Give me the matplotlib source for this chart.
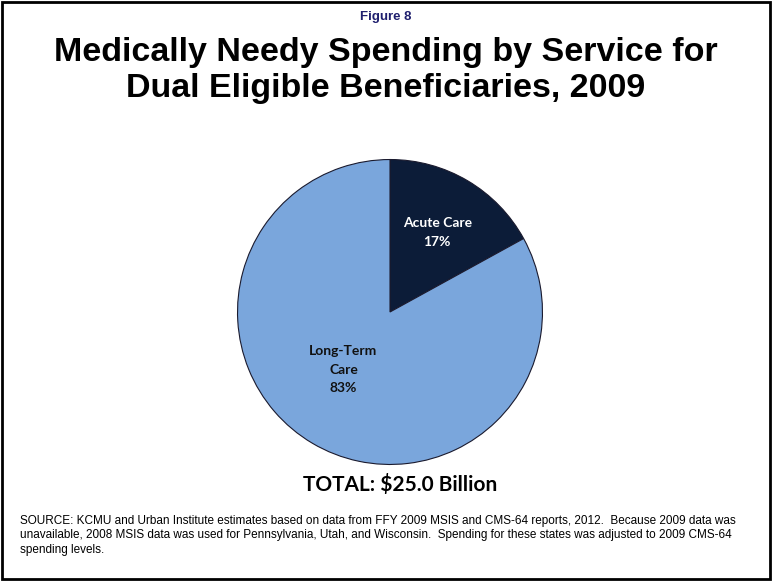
import matplotlib.pyplot as plt
from matplotlib.patches import Rectangle

# Spending shares by service
services = ["Acute Care", "Long-Term\nCare"]
shares = [17, 83]
colors = ["#0c1c38", "#7aa6dc"]
label_colors = ["white", "#111111"]
total_billion = 25.0

fig = plt.figure(figsize=(7.72, 5.81), dpi=100)
fig.patch.set_facecolor("white")

# frame around the slide
fig.patches.append(Rectangle((0.002, 0.003), 0.995, 0.994, transform=fig.transFigure,
                             fill=False, edgecolor="black", linewidth=2))

fig.text(0.5, 0.970, "Figure 8", ha="center", va="center", fontsize=9.5,
         fontweight="bold", color="#1f1f6e", family="Liberation Sans")
fig.text(0.5, 0.878, "Medically Needy Spending by Service for\nDual Eligible Beneficiaries, 2009",
         ha="center", va="center", fontsize=24.5, fontweight="bold", linespacing=1.2,
         family="Liberation Sans")

ax = fig.add_axes([(390 - 154) / 772, 1 - (312 + 154) / 581, 308 / 772, 308 / 581])
wedges, _ = ax.pie(shares, colors=colors, startangle=90, counterclock=False,
                   wedgeprops=dict(edgecolor="#1a1a2e", linewidth=0.8))
ax.set_xlim(-1.01, 1.01)
ax.set_ylim(-1.01, 1.01)
ax.set_aspect("equal")

label_pos = [(0.31, 0.52), (-0.305, -0.38)]
for name, val, (x, y), c in zip(services, shares, label_pos, label_colors):
    ax.text(x, y, f"{name}\n{val}%", ha="center", va="center", fontsize=10,
            fontweight="bold", color=c, family="Lato", linespacing=1.65)

fig.text(400 / 772, 1 - 484 / 581, f"TOTAL: ${total_billion:.1f} Billion", ha="center",
         va="center", fontsize=15, fontweight="bold", family="Lato")

fig.text(20 / 772, 1 - 515 / 581,
         "SOURCE: KCMU and Urban Institute estimates based on data from FFY 2009 MSIS and CMS-64 reports, 2012.  Because 2009 data was\n"
         "unavailable, 2008 MSIS data was used for Pennsylvania, Utah, and Wisconsin.  Spending for these states was adjusted to 2009 CMS-64\n"
         "spending levels.",
         ha="left", va="top", fontsize=8.5, linespacing=1.27, family="Liberation Sans")

fig.savefig("out.png", dpi=100)
